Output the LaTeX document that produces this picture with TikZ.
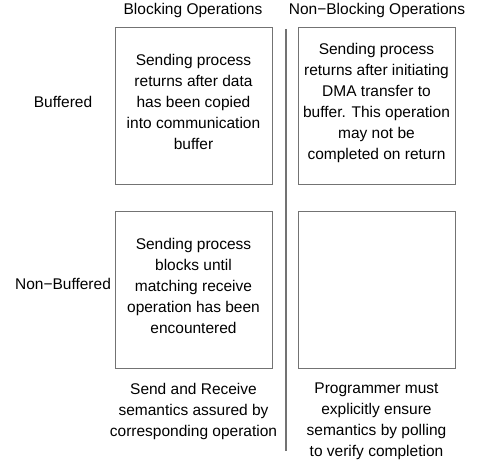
\documentclass[tikz,border=0pt]{standalone}
\usepackage{fontspec}
\setmainfont{Liberation Sans}
\begin{document}
\begin{tikzpicture}[x=1pt,y=-1pt,
  txt/.style={font=\fontsize{15.5}{21}\selectfont, align=center, inner sep=0pt, text=black},
  cell/.style={draw=black!55, line width=1.3pt, minimum width=157pt, minimum height=157pt, anchor=north west, inner sep=0pt},
  divider/.style={draw=black!55, line width=2pt}]
\useasboundingbox (0,0) rectangle (491,470);
% headers
\node[txt] (hb) at (193,10) {Blocking Operations};
\node[txt] (hn) at (377,10) {Non\char"2212 Blocking Operations};
% row labels
\node[txt] (rb) at (63,102) {Buffered};
\node[txt] (rn) at (63,284) {Non\char"2212 Buffered};
% boxes
\node[cell] (b11) at (115,27) {};
\node[cell] (b12) at (298,27) {};
\node[cell] (b21) at (115,211) {};
\node[cell] (b22) at (298,211) {};
% box texts
\node[txt, anchor=north] (t11) at (193.5,54) {Sending process\\returns after data\\has been copied\\into communication\\buffer};
\node[txt, anchor=north] (t12) at (376.5,43) {Sending process\\returns after initiating\\DMA transfer to\\buffer. This operation\\may not be\\completed on return};
\node[txt, anchor=north] (t21) at (193.5,238) {Sending process\\blocks until\\matching receive\\operation has been\\encountered};
% bottom texts
\node[txt, anchor=north] (s1) at (193.5,383) {Send and Receive\\semantics assured by\\corresponding operation};
\node[txt, anchor=north] (s2) at (376.5,383) {Programmer must\\explicitly ensure\\semantics by polling\\to verify completion};
% divider
\coordinate (dtop) at (286,29);
\coordinate (dbot) at (286,451);
\draw[divider] (dtop) -- (dbot);
\end{tikzpicture}
\end{document}
